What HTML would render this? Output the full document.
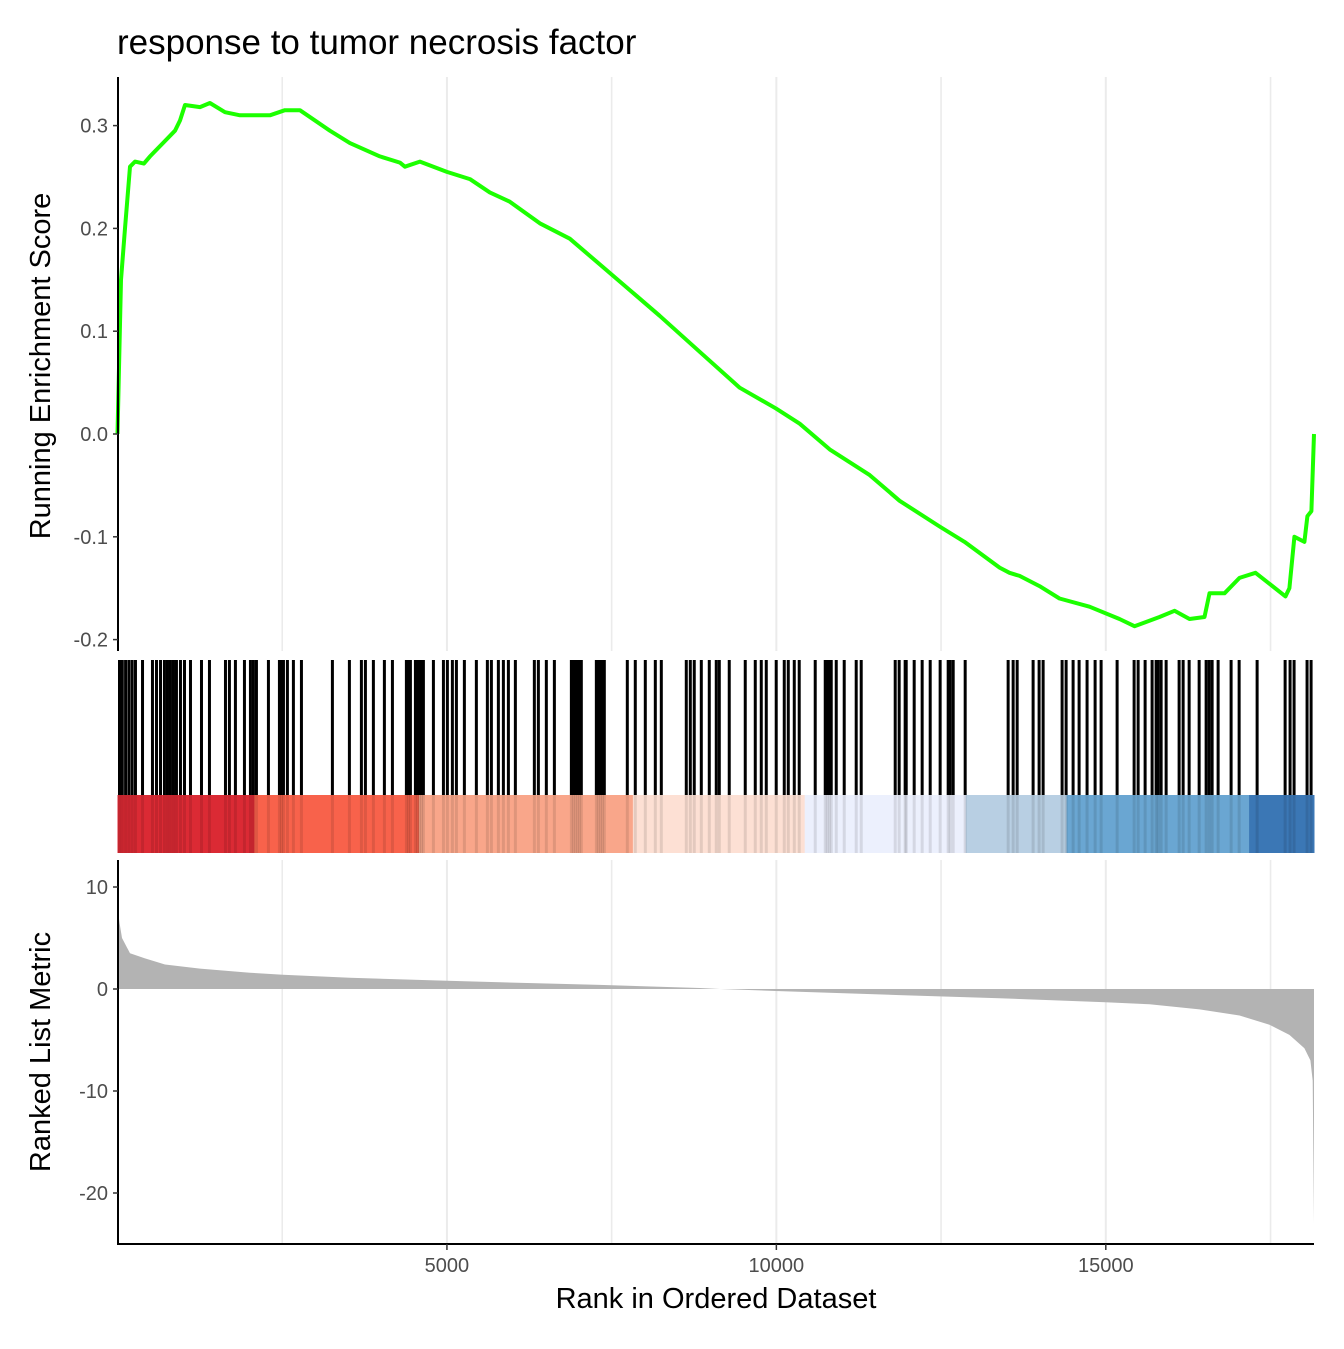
<!DOCTYPE html>
<html><head><meta charset="utf-8"><style>
body{margin:0;background:#fff}
svg text{font-family:"Liberation Sans",Arial,sans-serif}
</style></head><body>
<svg id="chart" width="1344" height="1344" viewBox="0 0 1344 1344" xmlns="http://www.w3.org/2000/svg">
<text x="117" y="54" font-size="35" fill="#000">response to tumor necrosis factor</text>
<g id="gTop"></g>
<g id="gMid"></g>
<g id="gBot"></g>
<text x="716" y="1308" font-size="29" text-anchor="middle">Rank in Ordered Dataset</text>
<text transform="translate(50,366) rotate(-90)" font-size="29" text-anchor="middle">Running Enrichment Score</text>
<text transform="translate(50,1052) rotate(-90)" font-size="29" text-anchor="middle">Ranked List Metric</text>
</svg>
<script>
const N = 18160;
const esRanks = [0,53,114,190,265,400,493,721,872,948,1024,1252,1403,1631,1860,2086,2313,2541,2768,3224,3527,3982,4286,4362,4589,4999,5348,5651,5954,6410,6865,7320,7775,8230,8837,9444,9990,10354,10809,11416,11871,12478,12857,13388,13539,13691,13994,14298,14753,15208,15436,15815,16042,16270,16498,16574,16801,17029,17272,17727,17787,17863,18015,18060,18121,18160];
const esValues = [0,0.15,0.2,0.26,0.265,0.263,0.27,0.285,0.295,0.305,0.32,0.318,0.322,0.313,0.31,0.31,0.31,0.315,0.315,0.295,0.283,0.27,0.264,0.26,0.265,0.255,0.248,0.235,0.226,0.205,0.19,0.165,0.14,0.115,0.08,0.045,0.025,0.01,-0.015,-0.04,-0.065,-0.09,-0.105,-0.13,-0.135,-0.138,-0.148,-0.16,-0.168,-0.18,-0.187,-0.178,-0.172,-0.18,-0.178,-0.155,-0.155,-0.14,-0.135,-0.158,-0.15,-0.10,-0.105,-0.08,-0.075,0];
const hits = [0,50,100,150,200,250,357,508,569,630,690,736,781,827,872,933,994,1085,1252,1373,1616,1676,1767,1904,1995,2040,2086,2268,2435,2465,2496,2556,2647,2769,3239,3497,3679,3740,3861,4028,4150,4362,4393,4423,4499,4529,4559,4590,4620,4772,4924,4984,5060,5121,5242,5424,5591,5652,5758,5834,5910,6016,6304,6365,6486,6608,6866,6896,6926,6957,6987,7017,7245,7275,7306,7336,7366,7715,7836,7988,8140,8231,8610,8671,8731,8838,8959,9065,9111,9262,9505,9657,9748,9824,9975,10097,10158,10249,10324,10567,10719,10749,10780,10810,10886,11007,11189,11265,11781,11841,11932,11948,12069,12190,12312,12463,12585,12615,12661,12843,13495,13571,13632,13874,13965,14026,14314,14375,14481,14572,14693,14815,14906,15149,15407,15468,15574,15680,15741,15771,15817,15893,16090,16151,16242,16394,16500,16546,16591,16682,16879,17001,17274,17699,17774,17835,18032,18093];
const bandBreaks = [0,2077,4575,7822,10430,12874,14405,17175,18160];
const bandColors = ["#DB2A34","#F8624B","#F9A68A","#FDE0D4","#ECF0FD","#B8CFE3","#6AA6D2","#3B77B5"];
const metricRanks = [0,30,68,190,418,721,1252,2010,2510,3527,4999,7320,8837,9141,9990,11871,13388,14996,15663,16422,17029,17484,17787,18015,18106,18140,18160];
const metricValues = [8,6.5,5,3.5,3,2.4,2,1.6,1.4,1.1,0.8,0.4,0.1,0,-0.2,-0.6,-0.9,-1.3,-1.5,-2,-2.6,-3.5,-4.5,-5.8,-7,-9,-23];
const xTicks = [5000,10000,15000];
const minorTicks = [2500,7500,12500,17500];
const esTicks = [-0.2,-0.1,0,0.1,0.2,0.3];
const esTickLabels = ["-0.2","-0.1","0.0","0.1","0.2","0.3"];
const metricTicks = [-20,-10,0,10];

const NS="http://www.w3.org/2000/svg";
const X0=117.5, X1=1314;
const xs = r => X0 + r*(X1-X0)/N;
const yES = v => 434 - v*1028;
const yM = v => 989 - v*10.2;
function mk(parent, tag, attrs){const e=document.createElementNS(NS,tag);for(const k in attrs)e.setAttribute(k,attrs[k]);parent.appendChild(e);return e;}
const gTop=document.getElementById('gTop'), gMid=document.getElementById('gMid'), gBot=document.getElementById('gBot');

function grid(g, y0, y1){
  minorTicks.concat(xTicks).forEach(t=>{
    const l=mk(g,'line',{x1:xs(t),x2:xs(t),y1:y0,y2:y1,stroke:'#ebebeb','stroke-width':xTicks.includes(t)?2:1.6});
    
    
  });
}
grid(gTop,77,651);
const dES=esRanks.map((r,i)=>(i?'L':'M')+xs(r).toFixed(1)+','+yES(esValues[i]).toFixed(1)).join(' ');
const es=mk(gTop,'path',{d:dES,fill:'none',stroke:'#1CFF00','stroke-width':4,'stroke-linejoin':'round'});


mk(gTop,'line',{x1:118,x2:118,y1:77,y2:651,stroke:'#000','stroke-width':2});
esTicks.forEach((t,i)=>{
  mk(gTop,'line',{x1:113,x2:118,y1:yES(t),y2:yES(t),stroke:'#333','stroke-width':1.5});
  const tx=mk(gTop,'text',{x:108,y:yES(t)+7,'font-size':20,fill:'#4d4d4d','text-anchor':'end'});
  tx.textContent=esTickLabels[i];
  
  
});
bandColors.forEach((c,i)=>{
  const r=mk(gMid,'rect',{x:xs(bandBreaks[i]),y:795,width:xs(bandBreaks[i+1])-xs(bandBreaks[i])+0.5,height:58,fill:c});
  
  
});
hits.forEach(h=>{
  const hx=Math.max(xs(h)+1.5,119.5);
  const l=mk(gMid,'line',{x1:hx,x2:hx,y1:660,y2:795,stroke:'#000','stroke-width':3});
  
  
  mk(gMid,'line',{x1:hx,x2:hx,y1:795,y2:853,stroke:'#000','stroke-width':3,'stroke-opacity':0.1});
});
grid(gBot,860,1244);
const dA='M'+xs(0)+','+yM(0)+' '+metricRanks.map((r,i)=>'L'+xs(r).toFixed(1)+','+yM(metricValues[i]).toFixed(1)).join(' ')+' L'+xs(N)+','+yM(0)+'Z';
const area=mk(gBot,'path',{d:dA,fill:'#b3b3b3'});


mk(gBot,'line',{x1:118,x2:118,y1:860,y2:1245,stroke:'#000','stroke-width':2});
mk(gBot,'line',{x1:117,x2:1314,y1:1244,y2:1244,stroke:'#000','stroke-width':2});
metricTicks.forEach(t=>{
  mk(gBot,'line',{x1:113,x2:118,y1:yM(t),y2:yM(t),stroke:'#333','stroke-width':1.5});
  const tx=mk(gBot,'text',{x:108,y:yM(t)+7,'font-size':20,fill:'#4d4d4d','text-anchor':'end'});
  tx.textContent=String(t);
  
  
});
xTicks.forEach(t=>{
  mk(gBot,'line',{x1:xs(t),x2:xs(t),y1:1244,y2:1250,stroke:'#333','stroke-width':1.5});
  const tx=mk(gBot,'text',{x:xs(t),y:1272,'font-size':20,fill:'#4d4d4d','text-anchor':'middle'});
  tx.textContent=String(t);
  
  
});
</script>
</body></html>
